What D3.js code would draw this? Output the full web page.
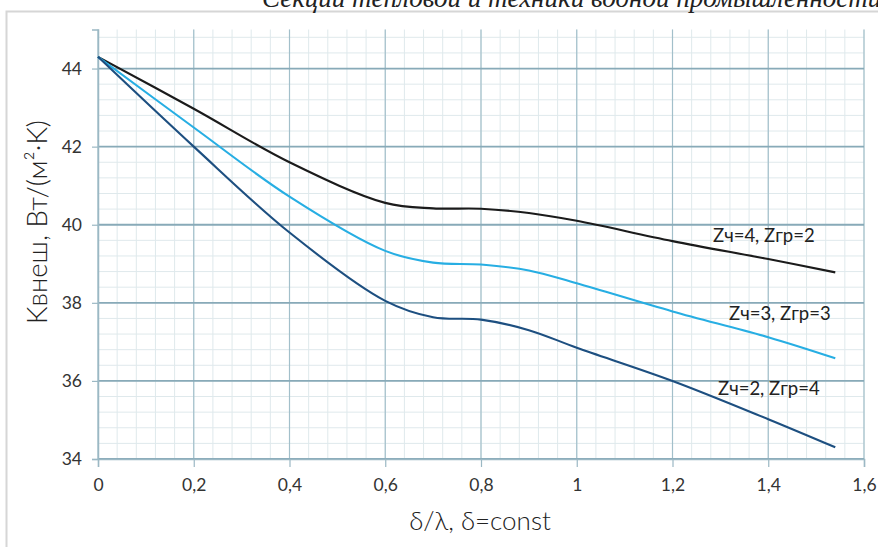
<!DOCTYPE html>
<html><head><meta charset="utf-8">
<script src="https://cdn.jsdelivr.net/npm/d3@7"></script>
<style>
html,body{margin:0;padding:0;background:#fff;overflow:hidden;}
svg{display:block;}
</style></head>
<body>
<script>
// ---- data ----
const xValues = [0, 0.2, 0.4, 0.6, 0.7, 0.8, 0.9, 1.0, 1.2, 1.4, 1.54];
const seriesNames = ["Zч=4, Zгр=2", "Zч=3, Zгр=3", "Zч=2, Zгр=4"];
const seriesA = [44.3, 42.97, 41.6, 40.56, 40.42, 40.41, 40.3, 40.1, 39.58, 39.12, 38.78];
const seriesB = [44.3, 42.49, 40.72, 39.33, 39.03, 38.98, 38.83, 38.5, 37.78, 37.12, 36.58];
const seriesC = [44.3, 42.0, 39.8, 38.05, 37.63, 37.57, 37.3, 36.85, 36.0, 35.02, 34.3];
const xTicks = [0, 0.2, 0.4, 0.6, 0.8, 1, 1.2, 1.4, 1.6];
const yTicks = [34, 36, 38, 40, 42, 44];
const colors = ["#1b1b1b", "#27aee3", "#1d4f80"];

const W = 878, H = 547;
const svg = d3.select("body").append("svg").attr("width", W).attr("height", H);
const font = "Lato, 'Noto Sans', sans-serif";

// frame
svg.append("rect").attr("x", 6.5).attr("y", 11.5).attr("width", 900).attr("height", 600)
  .attr("fill", "none").attr("stroke", "#d6d6d6").attr("stroke-width", 2);

// header text (cut by the top edge, as in the reference)
svg.append("text").attr("x", 262).attr("y", 7)
  .attr("font-family", "'Liberation Serif', serif").attr("font-style", "italic")
  .attr("font-size", 27).attr("fill", "#222")
  .text("Секции тепловой и техники водной промышленности");

const x = d3.scaleLinear().domain([0, 1.6]).range([98, 864]);
const y = d3.scaleLinear().domain([34, 45]).range([459, 29.5]);

const g = svg.append("g");
// minor grid
const xMinor = d3.range(0, 1.6001, 0.04);
const yMinor = d3.range(34, 45.001, 0.4);
g.selectAll(".vm").data(xMinor).join("line")
  .attr("x1", d => x(d)).attr("x2", d => x(d)).attr("y1", y(45)).attr("y2", y(34))
  .attr("stroke", "#dfe9ec").attr("stroke-width", 1);
g.selectAll(".hm").data(yMinor).join("line")
  .attr("x1", x(0)).attr("x2", x(1.6)).attr("y1", d => y(d)).attr("y2", d => y(d))
  .attr("stroke", "#dfe9ec").attr("stroke-width", 1);
// major grid
g.selectAll(".vM").data(xTicks).join("line")
  .attr("x1", d => x(d)).attr("x2", d => x(d)).attr("y1", y(45)).attr("y2", y(34))
  .attr("stroke", "#a2bfca").attr("stroke-width", 1.2);
g.selectAll(".hM").data(yTicks).join("line")
  .attr("x1", x(0)).attr("x2", x(1.6)).attr("y1", d => y(d)).attr("y2", d => y(d))
  .attr("stroke", "#88aab8").attr("stroke-width", 1.8);

// axes
const xAxis = svg.append("g").attr("transform", `translate(0,${y(34)})`)
  .call(d3.axisBottom(x).tickValues(xTicks).tickSize(8).tickPadding(12)
    .tickFormat(d => String(d).replace(".", ",")));
const yAxis = svg.append("g").attr("transform", `translate(${x(0)},0)`)
  .call(d3.axisLeft(y).tickValues(yTicks).tickSize(6).tickPadding(10));
[xAxis, yAxis].forEach(a => {
  a.select(".domain").attr("stroke", "#9bb8c4").attr("stroke-width", 1.5);
  a.selectAll(".tick line").attr("stroke", "#9bb8c4").attr("stroke-width", 1.2);
  a.selectAll("text").attr("font-family", font).attr("font-size", 17.5).attr("fill", "#333");
});

// lines
const line = d3.line().x((d, i) => x(xValues[i])).y(d => y(d)).curve(d3.curveCatmullRom.alpha(0.5));
[seriesA, seriesB, seriesC].forEach((s, i) => {
  svg.append("path").datum(s).attr("d", line).attr("fill", "none")
    .attr("stroke", colors[i]).attr("stroke-width", 2.1);
});

// labels
const labelPos = [[713, 242], [729, 320], [718, 395]];
seriesNames.forEach((n, i) => {
  svg.append("text").attr("x", labelPos[i][0]).attr("y", labelPos[i][1])
    .attr("font-family", font).attr("font-size", 18.5).attr("fill", "#222").text(n);
});

// axis titles
svg.append("text").attr("transform", "translate(47,222) rotate(-90)")
  .attr("text-anchor", "middle").attr("font-family", font).attr("font-size", 27.5)
  .attr("font-weight", 300).attr("fill", "#222").text("Kвнеш, Вт/(м²·K)");
svg.append("text").attr("x", 480).attr("y", 530).attr("text-anchor", "middle")
  .attr("font-family", font).attr("font-size", 26).attr("font-weight", 300)
  .attr("fill", "#222").text("δ/λ, δ=const");
</script>
</body></html>
